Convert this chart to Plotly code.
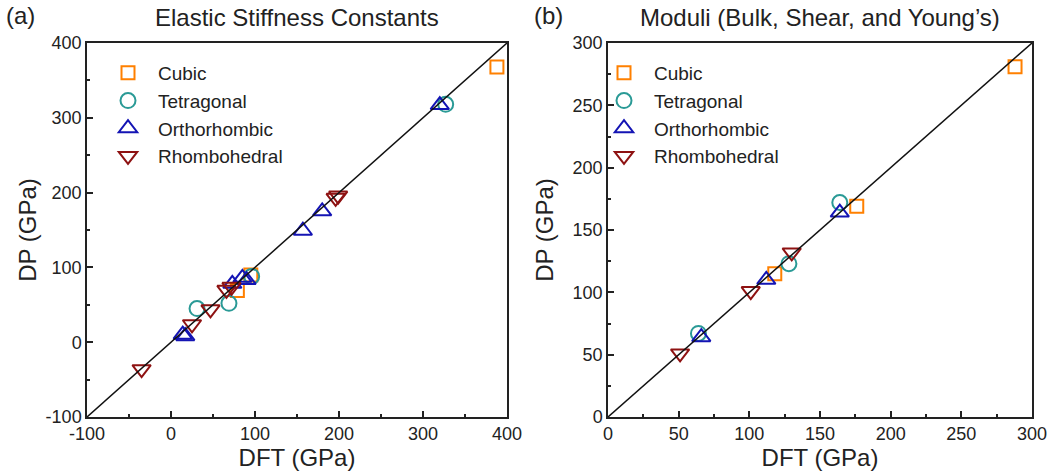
import plotly.graph_objects as go

W, H = 1057, 476
FONT = "Liberation Sans, Arial, sans-serif"

# ---------------- data: panel (a) Elastic stiffness constants ----------------
a_cubic_dft = [388, 95, 79]
a_cubic_dp = [368, 90, 69]
a_tetra_dft = [327, 96, 69, 31]
a_tetra_dp = [318, 88, 52, 45]
a_ortho_dft = [320, 180, 157, 73, 85, 90, 14, 17]
a_ortho_dp = [317, 175, 149, 78, 86, 83, 10, 8]
a_rhombo_dft = [199, 196, 72, 66, 47, 25, -35]
a_rhombo_dp = [196, 193, 74, 70, 44, 24, -36]
a_diag = [-100, 400]
a_ticks = [-100, 0, 100, 200, 300, 400]
a_ticklabels = ["-100", "0", "100", "200", "300", "400"]

# ---------------- data: panel (b) Moduli ----------------
b_cubic_dft = [288, 176, 118]
b_cubic_dp = [281, 169, 115]
b_tetra_dft = [164, 128, 64]
b_tetra_dp = [172, 123, 67]
b_ortho_dft = [164, 112, 66]
b_ortho_dp = [164, 110, 64]
b_rhombo_dft = [130, 101, 51]
b_rhombo_dp = [132, 101, 51]
b_diag = [0, 300]

names = ["Cubic", "Tetragonal", "Orthorhombic", "Rhombohedral"]
colors = ["#FF8000", "#2A9A96", "#1414B4", "#8E1212"]
symbols = ["square-open", "circle-open", "triangle-up-open", "triangle-down-open"]
sizes = [13, 15, 16, 16]

fig = go.Figure()

panel_a = [(a_cubic_dft, a_cubic_dp), (a_tetra_dft, a_tetra_dp),
           (a_ortho_dft, a_ortho_dp), (a_rhombo_dft, a_rhombo_dp)]
panel_b = [(b_cubic_dft, b_cubic_dp), (b_tetra_dft, b_tetra_dp),
           (b_ortho_dft, b_ortho_dp), (b_rhombo_dft, b_rhombo_dp)]

for i, (xs, ys) in enumerate(panel_a):
    fig.add_trace(go.Scatter(
        x=xs, y=ys, mode="markers", name=names[i], legend="legend",
        xaxis="x", yaxis="y",
        marker=dict(symbol=symbols[i], size=sizes[i], color=colors[i],
                    line=dict(width=2, color=colors[i]))))
fig.add_trace(go.Scatter(x=a_diag, y=a_diag, mode="lines", showlegend=False,
                         xaxis="x", yaxis="y",
                         line=dict(color="#111", width=1.5)))

for i, (xs, ys) in enumerate(panel_b):
    fig.add_trace(go.Scatter(
        x=xs, y=ys, mode="markers", name=names[i], legend="legend2",
        xaxis="x2", yaxis="y2",
        marker=dict(symbol=symbols[i], size=sizes[i], color=colors[i],
                    line=dict(width=2, color=colors[i]))))
fig.add_trace(go.Scatter(x=b_diag, y=b_diag, mode="lines", showlegend=False,
                         xaxis="x2", yaxis="y2",
                         line=dict(color="#111", width=1.5)))

AX = "#222"
common = dict(showline=True, linecolor=AX, linewidth=1.5, mirror=True,
              ticks="inside", ticklen=6, tickwidth=1.5, tickcolor=AX,
              showgrid=False, zeroline=False, automargin=False,
              tickfont=dict(size=18, color=AX, family=FONT),
              title_font=dict(size=24, color=AX, family=FONT))

PT, PB = 43, 59
ph = H - PT - PB
LEG_FONT = 19

fig.update_layout(
    width=W, height=H,
    margin=dict(l=0, r=0, t=PT, b=PB, pad=0),
    plot_bgcolor="white", paper_bgcolor="white",
    font=dict(family=FONT, color=AX),
    xaxis=dict(common, domain=[87 / W, 507 / W], range=[-100, 400],
               tickmode="array", tickvals=a_ticks, ticktext=a_ticklabels,
               anchor="y", minor=dict(ticks="inside", dtick=50, ticklen=3, tickwidth=1.5, tickcolor=AX),
               title=dict(text="DFT (GPa)", standoff=6)),
    yaxis=dict(common, domain=[0, 1], range=[-100, 400],
               tickmode="array", tickvals=a_ticks, ticktext=a_ticklabels,
               anchor="x", minor=dict(ticks="inside", dtick=50, ticklen=3, tickwidth=1.5, tickcolor=AX),
               title=dict(text="DP (GPa)", standoff=2)),
    xaxis2=dict(common, domain=[608 / W, 1032 / W], range=[0, 300], dtick=50,
                anchor="y2", minor=dict(ticks="inside", dtick=25, ticklen=3, tickwidth=1.5, tickcolor=AX),
                title=dict(text="DFT (GPa)", standoff=6)),
    yaxis2=dict(common, domain=[0, 1], range=[0, 300], dtick=50,
                anchor="x2", minor=dict(ticks="inside", dtick=25, ticklen=3, tickwidth=1.5, tickcolor=AX),
                title=dict(text="DP (GPa)", standoff=12)),
    legend=dict(x=98 / W, xanchor="left", y=1 - (54 - PT) / ph, yanchor="top",
                font=dict(size=LEG_FONT, color=AX, family=FONT), bgcolor="rgba(0,0,0,0)",
                tracegroupgap=0, itemwidth=50),
    legend2=dict(x=594 / W, xanchor="left", y=1 - (54 - PT) / ph, yanchor="top",
                 font=dict(size=LEG_FONT, color=AX, family=FONT), bgcolor="rgba(0,0,0,0)",
                 tracegroupgap=0, itemwidth=50),
    annotations=[
        dict(text="Elastic Stiffness Constants", x=297 / W, y=1 + (PT - 18) / ph,
             xref="paper", yref="paper", xanchor="center", yanchor="middle",
             showarrow=False, font=dict(size=24, color=AX, family=FONT)),
        dict(text="Moduli (Bulk, Shear, and Young’s)", x=820 / W, y=1 + (PT - 18) / ph,
             xref="paper", yref="paper", xanchor="center", yanchor="middle",
             showarrow=False, font=dict(size=24, color=AX, family=FONT)),
        dict(text="(a)", x=4 / W, y=1 + (PT - 16) / ph,
             xref="paper", yref="paper", xanchor="left", yanchor="middle",
             showarrow=False, font=dict(size=24, color=AX, family=FONT)),
        dict(text="(b)", x=532 / W, y=1 + (PT - 16) / ph,
             xref="paper", yref="paper", xanchor="left", yanchor="middle",
             showarrow=False, font=dict(size=24, color=AX, family=FONT)),
    ],
)

fig.write_html("out.html")
